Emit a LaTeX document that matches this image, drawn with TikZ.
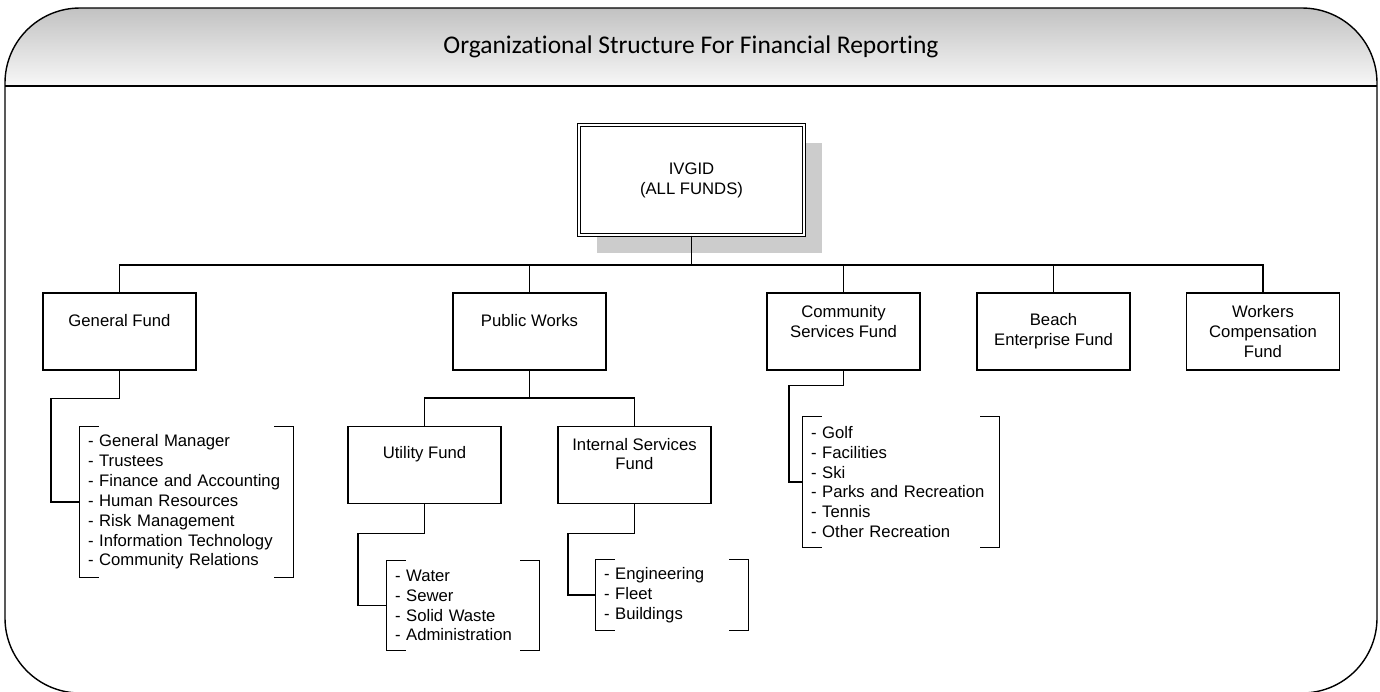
\documentclass[tikz,border=0pt]{standalone}
\usepackage{fontspec}
\setmainfont{Liberation Sans}
\newfontfamily\titlefont[Ligatures=NoCommon]{Carlito}
\usetikzlibrary{shadows}

\tikzset{
  fundbox/.style={draw, line width=0.7pt, minimum width=3.06cm, minimum height=1.54cm, inner sep=0pt},
  fundtext/.style={font=\fontsize{9.5}{11.3}\selectfont, align=center, inner sep=0pt},
  itemlist/.style={font=\fontsize{9.5}{11.3}\selectfont, align=left, inner xsep=0.16cm, inner ysep=0pt},
  link/.style={line width=0.7pt},
}

\begin{document}
\begin{tikzpicture}[x=0.02cm, y=-0.02cm]
\useasboundingbox (0,0) rectangle (1380,691);

% outer frame and title bar
\begin{scope}
\clip[rounded corners=1.5cm] (5,8) rectangle (1377,693);
\shade[top color=black!24, bottom color=black!3] (5,8) rectangle (1377,86);
\end{scope}
\draw[line width=0.8pt, rounded corners=1.5cm] (5,8) rectangle (1377,693);
\draw[line width=0.8pt] (5,86) -- (1377,86);
\node[font=\titlefont\fontsize{14.5}{17}\selectfont] (title) at (691,47) {Organizational Structure For Financial Reporting};

% top of the tree
\node[draw, double, double distance=1.2pt, line width=0.6pt, fill=white,
      minimum width=4.5cm, minimum height=2.2cm, align=center,
      font=\fontsize{9.5}{11.3}\selectfont,
      drop shadow={shadow xshift=0.36cm, shadow yshift=-0.36cm, fill=black!20, opacity=1}]
      (ivgid) at (691.5,180) {IVGID\\(ALL FUNDS)};

% funds
\node[fundbox] (gen) at (119.5,331.5) {};
\node[fundbox] (pw) at (529.5,331.5) {};
\node[fundbox] (com) at (843.5,331.5) {};
\node[fundbox] (beach) at (1053.5,331.5) {};
\node[fundbox] (wc) at (1263,331.5) {};
\node[fundbox] (util) at (424.5,465) {};
\node[fundbox] (int) at (634.5,465) {};

\node[fundtext] (gen-t) at ([yshift=0.21cm]gen.center) {General Fund};
\node[fundtext] (pw-t) at ([yshift=0.21cm]pw.center) {Public Works};
\node[fundtext] (com-t) at ([yshift=0.2cm]com.center) {Community\\Services Fund};
\node[fundtext] (beach-t) at (beach.center) {Beach\\Enterprise Fund};
\node[fundtext] (wc-t) at (wc.center) {Workers\\Compensation\\Fund};
\node[fundtext] (util-t) at ([yshift=0.22cm]util.center) {Utility Fund};
\node[fundtext] (int-t) at ([yshift=0.22cm]int.center) {Internal Services\\Fund};

% departments
\node[itemlist, text width=3.94cm, minimum height=3cm] (genlist) at (186.5,502)
  {- General Manager\\- Trustees\\- Finance and Accounting\\- Human Resources\\- Risk Management\\- Information Technology\\- Community Relations};
\node[itemlist, text width=2.72cm, minimum height=1.78cm] (utillist) at (463,605.5)
  {- Water\\- Sewer\\- Solid Waste\\- Administration};
\node[itemlist, text width=2.72cm, minimum height=1.4cm] (intlist) at (672,595)
  {- Engineering\\- Fleet\\- Buildings};
\node[itemlist, text width=3.6cm, minimum height=2.6cm] (comlist) at (901,482)
  {- Golf\\- Facilities\\- Ski\\- Parks and Recreation\\- Tennis\\- Other Recreation};

\foreach \l in {genlist,utillist,intlist,comlist} {
  \draw[link] ([xshift=0.38cm]\l.north west) -- (\l.north west) -- (\l.south west) -- ([xshift=0.38cm]\l.south west);
  \draw[link] ([xshift=-0.38cm]\l.north east) -- (\l.north east) -- (\l.south east) -- ([xshift=-0.38cm]\l.south east);
}

% connectors
\coordinate (bus) at (691.5,265);
\coordinate (pwbus) at (529.5,398);
\draw[link] (ivgid) -- (bus);
\foreach \f in {gen,pw,com,beach,wc}
  \draw[link] (bus) -| (\f.north);
\draw[link] (pw) -- (pwbus);
\foreach \f in {util,int}
  \draw[link] (pwbus) -| (\f.north);

\draw[link] (gen.south) |- ++(-68.5,28) |- (genlist.west);
\draw[link] (util.south) |- ++(-66.5,29) |- (utillist.west);
\draw[link] (int.south) |- ++(-66.5,29) |- (intlist.west);
\draw[link] (com.south) |- ++(-54.5,15) |- (comlist.west);

\end{tikzpicture}
\end{document}
